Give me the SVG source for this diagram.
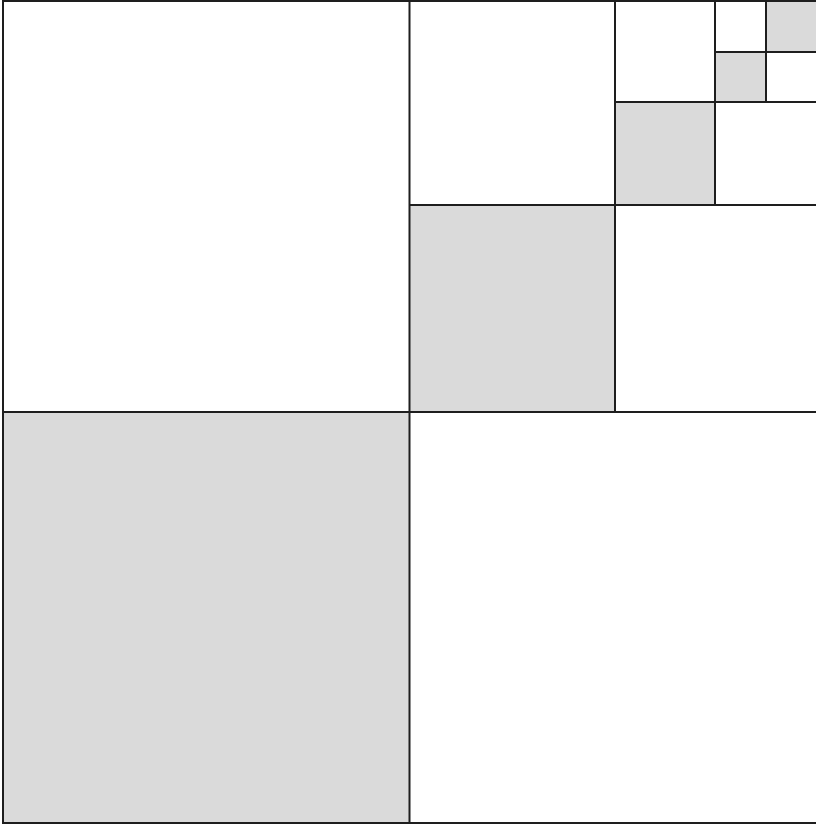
<svg xmlns="http://www.w3.org/2000/svg" width="816" height="826" viewBox="0 0 816 826">
  <style>
    .g { fill: #dadada; stroke: none; }
    .ln { stroke: #1e1e1e; stroke-width: 2; fill: none; }
  </style>
  <rect x="0" y="0" width="816" height="826" fill="#ffffff"/>
  <g id="shaded">
    <rect class="g" x="3" y="412" width="406.5" height="411"/>
    <rect class="g" x="409.5" y="205" width="205.5" height="207"/>
    <rect class="g" x="615" y="102" width="100" height="103"/>
    <rect class="g" x="715" y="52" width="51" height="50"/>
    <rect class="g" x="766" y="1" width="51" height="51"/>
  </g>
  <g id="lines">
    <rect class="ln" x="3" y="1" width="815" height="822"/>
    <line class="ln" x1="409.5" y1="1" x2="409.5" y2="823"/>
    <line class="ln" x1="3" y1="412" x2="817" y2="412"/>
    <line class="ln" x1="615" y1="1" x2="615" y2="412"/>
    <line class="ln" x1="409.5" y1="205" x2="817" y2="205"/>
    <line class="ln" x1="715" y1="1" x2="715" y2="205"/>
    <line class="ln" x1="615" y1="102" x2="817" y2="102"/>
    <line class="ln" x1="766" y1="1" x2="766" y2="102"/>
    <line class="ln" x1="715" y1="52" x2="817" y2="52"/>
  </g>
</svg>
